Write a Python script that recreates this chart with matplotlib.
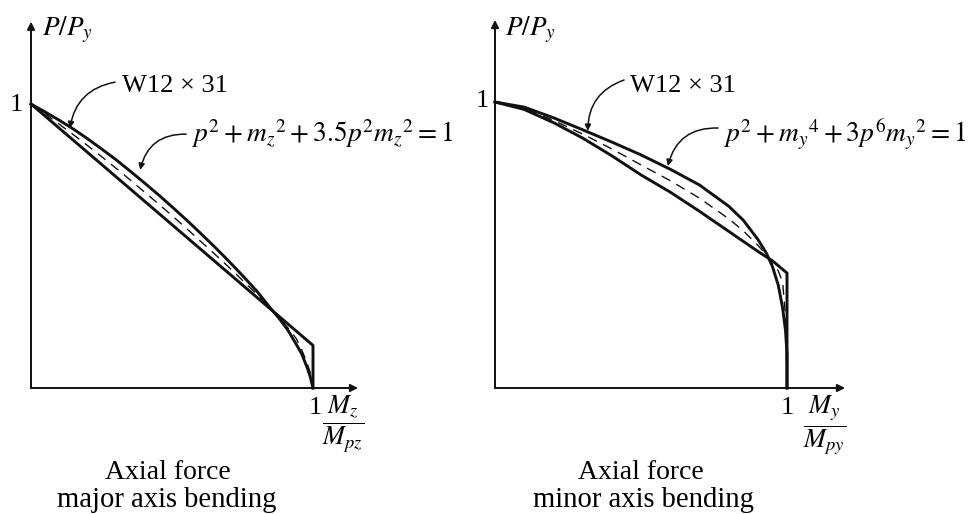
import matplotlib
matplotlib.use("Agg")
import matplotlib.pyplot as plt

plt.rcParams['font.family'] = ['Liberation Serif', 'DejaVu Serif']
plt.rcParams['mathtext.fontset'] = 'stix'

INK = '#111111'

# ---- major axis bending: p = P/Py against m = Mz/Mpz ----
major_bilinear_m = [0.0, 1.0, 1.0]
major_bilinear_p = [1.0, 0.15, 0.0]

major_eq_m = [0.0, 0.05, 0.10, 0.15, 0.20, 0.25, 0.30, 0.35, 0.40, 0.45, 0.50, 0.55,
              0.60, 0.65, 0.70, 0.75, 0.80, 0.85, 0.88, 0.91, 0.94, 0.96, 0.98, 0.99, 1.0]
major_eq_p = [1.0, 0.972, 0.943, 0.912, 0.878, 0.842, 0.805, 0.765, 0.724, 0.682, 0.638, 0.593,
              0.546, 0.498, 0.448, 0.396, 0.342, 0.28, 0.245, 0.205, 0.155, 0.12, 0.07, 0.04, 0.0]

major_w12_m = [0.0, 0.05, 0.10, 0.15, 0.20, 0.25, 0.30, 0.35, 0.40, 0.45, 0.50, 0.55,
               0.60, 0.65, 0.70, 0.75, 0.80, 0.85, 0.88, 0.91, 0.94, 0.96, 0.98, 0.99, 1.0]
major_w12_p = [1.0, 0.965, 0.929, 0.892, 0.854, 0.815, 0.775, 0.734, 0.692, 0.65, 0.607, 0.563,
               0.518, 0.473, 0.427, 0.379, 0.331, 0.279, 0.246, 0.213, 0.175, 0.135, 0.085, 0.055, 0.0]

# ---- minor axis bending: p = P/Py against m = My/Mpy ----
minor_bilinear_m = [0.0, 0.10, 0.20, 0.30, 0.40, 0.50, 0.60, 0.70, 0.80, 0.90, 0.95, 1.0, 1.0]
minor_bilinear_p = [1.0, 0.974, 0.928, 0.874, 0.812, 0.745, 0.685, 0.618, 0.548, 0.478, 0.445, 0.402, 0.0]

minor_eq_m = [0.0, 0.10, 0.20, 0.30, 0.40, 0.50, 0.60, 0.70, 0.80, 0.85, 0.90, 0.93,
              0.95, 0.97, 0.985, 0.995, 1.0, 1.0]
minor_eq_p = [1.0, 0.982, 0.945, 0.903, 0.86, 0.815, 0.765, 0.71, 0.636, 0.587, 0.52, 0.47,
              0.425, 0.36, 0.28, 0.20, 0.12, 0.0]

minor_w12_m = [0.0, 0.10, 0.20, 0.30, 0.40, 0.50, 0.60, 0.70, 0.80, 0.85, 0.90, 0.93,
               0.95, 0.97, 0.985, 0.995, 1.0]
minor_w12_p = [1.0, 0.978, 0.936, 0.888, 0.836, 0.78, 0.725, 0.664, 0.592, 0.55, 0.499, 0.465,
               0.435, 0.41, 0.37, 0.25, 0.0]

W, H = 976, 514
fig = plt.figure(figsize=(W / 100, H / 100), dpi=100)
fig.patch.set_facecolor('white')


def panel(x0, y0, sx, sy):
    """Axes over the whole figure, origin at pixel (x0, y0) from top-left, sx/sy px per unit."""
    ax = fig.add_axes([0, 0, 1, 1])
    ax.axis('off')
    ax.set_xlim(-x0 / sx, (W - x0) / sx)
    ax.set_ylim(-(H - y0) / sy, y0 / sy)
    return ax


def axis_arrow(ax, x1, y1):
    ax.annotate('', xy=(x1, y1), xytext=(0, 0),
                arrowprops=dict(arrowstyle='-|>', color=INK, lw=1.4,
                                mutation_scale=11, shrinkA=0, shrinkB=0))


def pointer(ax, start, tip, rad):
    ax.annotate('', xy=tip, xytext=start,
                arrowprops=dict(arrowstyle='-|>', color=INK, lw=1.1,
                                mutation_scale=9, shrinkA=0, shrinkB=0,
                                connectionstyle=f'arc3,rad={rad}'))


def draw(ax, bil_m, bil_p, eq_m, eq_p, w_m, w_p):
    ax.plot(bil_m, bil_p, color=INK, lw=2.1, solid_joinstyle='miter')
    ax.plot(eq_m, eq_p, color=INK, lw=2.1, solid_joinstyle='round')
    ax.plot(w_m, w_p, color=INK, lw=1.0, ls=(0, (7, 5)))


# left panel
axL = panel(31, 388, 282, 284)
axis_arrow(axL, 0, 1.29)
axis_arrow(axL, 1.16, 0)
draw(axL, major_bilinear_m, major_bilinear_p, major_eq_m, major_eq_p, major_w12_m, major_w12_p)
axL.text(-0.053, 0.996, '1', fontsize=19, ha='center', va='center')
axL.text(1.007, -0.07, '1', fontsize=19, ha='center', va='center')
axL.text(0.039, 1.243, r'$P/P_y$', fontsize=19.5, ha='left', va='baseline')
axL.text(1.107, -0.128, r'$\dfrac{M_z}{M_{pz}}$', fontsize=19, ha='center', va='center')
axL.text(0.323, 1.042, 'W12 × 31', fontsize=19, ha='left', va='baseline')
pointer(axL, (0.298, 1.077), (0.138, 0.915), 0.35)
axL.text(0.567, 0.866, r'$p^2 + m_z{}^2 + 3.5p^2m_z{}^2 = 1$', fontsize=19.8,
         ha='left', va='baseline')
pointer(axL, (0.55, 0.894), (0.387, 0.768), 0.4)
axL.text(0.486, -0.296, 'Axial force', fontsize=20, ha='center', va='center')
axL.text(0.482, -0.394, 'major axis bending', fontsize=20.6, ha='center', va='center')

# right panel
axR = panel(495, 388, 292, 286)
axis_arrow(axR, 0, 1.287)
axis_arrow(axR, 1.199, 0)
draw(axR, minor_bilinear_m, minor_bilinear_p, minor_eq_m, minor_eq_p, minor_w12_m, minor_w12_p)
axR.text(-0.045, 1.003, '1', fontsize=19, ha='center', va='center')
axR.text(1.0, -0.07, '1', fontsize=19, ha='center', va='center')
axR.text(0.034, 1.234, r'$P/P_y$', fontsize=19.5, ha='left', va='baseline')
axR.text(1.130, -0.13, r'$\dfrac{M_y}{M_{py}}$', fontsize=19, ha='center', va='center')
axR.text(0.462, 1.035, 'W12 × 31', fontsize=19, ha='left', va='baseline')
pointer(axR, (0.442, 1.077), (0.318, 0.899), 0.35)
axR.text(0.78, 0.860, r'$p^2 + m_y{}^4 + 3p^6m_y{}^2 = 1$', fontsize=19.8,
         ha='left', va='baseline')
pointer(axR, (0.764, 0.909), (0.592, 0.776), 0.4)
axR.text(0.5, -0.294, 'Axial force', fontsize=20, ha='center', va='center')
axR.text(0.507, -0.392, 'minor axis bending', fontsize=20.6, ha='center', va='center')

fig.savefig('out.png', dpi=100, facecolor='white')
